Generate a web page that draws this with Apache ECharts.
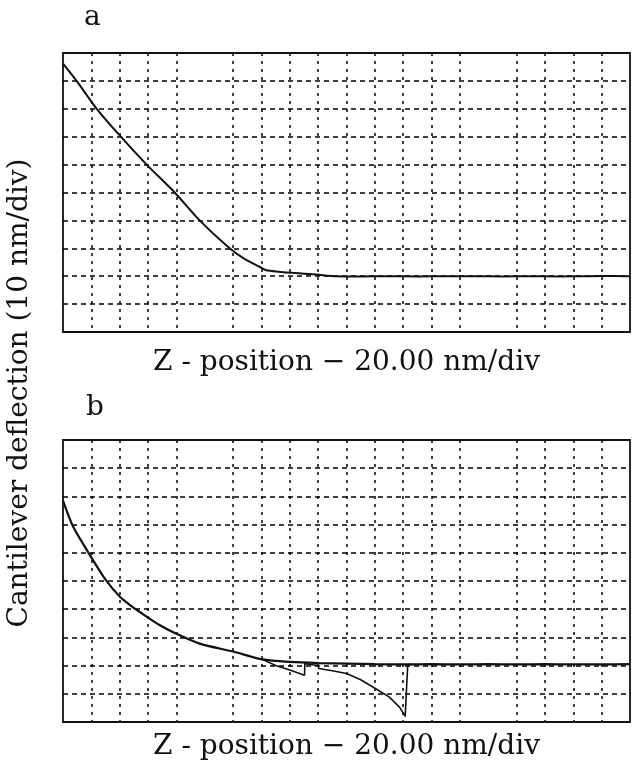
<!DOCTYPE html>
<html>
<head>
<meta charset="utf-8">
<script src="https://cdn.jsdelivr.net/npm/echarts@6/dist/echarts.min.js"></script>
<style>html,body{margin:0;padding:0;background:#fff;}#c{width:635px;height:769px;}</style>
</head>
<body>
<div id="c"></div>
<script>
// Panel a: approach curve (x in divisions, y in divisions)
var xA = [0, 0.48, 1.19, 2.04, 2.95, 3.94, 4.82, 5.88, 6.4, 6.94, 7.17, 7.6, 8.11, 8.93, 9.64, 10.5, 11.5, 12.5, 13.5, 14.5, 15.5, 16.5, 17.5, 18.5, 19.5, 20];
var yA = [9.62, 9.0, 8.0, 7.0, 6.0, 5.0, 4.0, 3.0, 2.62, 2.33, 2.21, 2.16, 2.12, 2.06, 2.0, 1.99, 2.0, 1.99, 2.0, 2.0, 1.99, 2.0, 1.99, 2.0, 2.01, 2.0];
// Panel b: approach curve
var xB = [0, 0.36, 1.01, 1.5, 2.0, 2.4, 2.71, 3.42, 4.04, 4.82, 6.03, 7.03, 8.02, 9.0, 10.02, 11, 12, 13, 14, 15, 16, 17, 18, 19, 20];
var yB = [7.85, 6.92, 5.82, 5.05, 4.45, 4.12, 3.9, 3.43, 3.11, 2.78, 2.49, 2.22, 2.13, 2.09, 2.07, 2.05, 2.04, 2.05, 2.04, 2.05, 2.04, 2.05, 2.04, 2.04, 2.05];
// Panel b: retract branch
var xR = [7.03, 7.5, 8.0, 8.52, 8.53, 8.8, 9.0, 9.02, 9.5, 10.0, 10.5, 10.93, 11.5, 11.87, 12.07, 12.16, 12.3];
var yR = [2.22, 2.0, 1.84, 1.66, 2.07, 2.03, 2.0, 1.9, 1.82, 1.72, 1.5, 1.24, 0.89, 0.53, 0.2, 2.04, 2.04];
// Texts
var panelLabels = ['a', 'b'];
var xTitle = 'Z - position \u2212 20.00 nm/div';
var yTitle = 'Cantilever deflection (10 nm/div)';

function pairs(xs, ys) { return xs.map(function (x, i) { return [x, ys[i]]; }); }

var FONT = 'DejaVu Serif';
var FS = 28;
var vColors = [];
for (var i = 0; i <= 20; i++) {
  vColors.push((i === 0 || i === 5 || i === 15 || i === 20) ? 'rgba(0,0,0,0)' : '#000');
}
var hColors = [];
for (var j = 0; j <= 10; j++) {
  hColors.push((j === 0 || j === 10) ? 'rgba(0,0,0,0)' : '#000');
}

function xAxis(gi, gap) {
  return {
    type: 'value', gridIndex: gi, min: 0, max: 20, interval: 1,
    axisLine: { show: false }, axisTick: { show: false }, axisLabel: { show: false },
    splitLine: { show: true, lineStyle: { color: vColors, width: 1.5, type: [3, 5] } },
    name: xTitle, nameLocation: 'middle', nameGap: gap,
    nameTextStyle: { fontFamily: FONT, fontSize: FS, color: '#111' }
  };
}
function yAxis(gi) {
  return {
    type: 'value', gridIndex: gi, min: 0, max: 10, interval: 1,
    axisLine: { show: false }, axisTick: { show: false }, axisLabel: { show: false },
    splitLine: { show: true, lineStyle: { color: hColors, width: 1.5, type: [5, 4] } }
  };
}

var chart = echarts.init(document.getElementById('c'), null, { renderer: 'canvas' });
chart.setOption({
  backgroundColor: '#fff',
  animation: false,
  grid: [
    { left: 63, top: 53, width: 567, height: 279, show: true, borderColor: '#111', borderWidth: 1.8, backgroundColor: 'transparent' },
    { left: 63, top: 440, width: 567, height: 282, show: true, borderColor: '#111', borderWidth: 1.8, backgroundColor: 'transparent' }
  ],
  xAxis: [xAxis(0, 17), xAxis(1, 11)],
  yAxis: [yAxis(0), yAxis(1)],
  graphic: [
    { type: 'text', left: 84, top: 4, style: { text: panelLabels[0], font: FS + 'px "' + FONT + '"', fill: '#111' } },
    { type: 'text', left: 86, top: 394, style: { text: panelLabels[1], font: FS + 'px "' + FONT + '"', fill: '#111' } },
    { type: 'text', x: 20, y: 393, rotation: Math.PI / 2,
      style: { text: yTitle, font: FS + 'px "' + FONT + '"', fill: '#111', align: 'center', verticalAlign: 'middle' } }
  ],
  series: [
    { type: 'line', xAxisIndex: 0, yAxisIndex: 0, data: pairs(xA, yA), showSymbol: false, symbol: 'none', smooth: 0.25,
      lineStyle: { color: '#111', width: 2 }, z: 5 },
    { type: 'line', xAxisIndex: 1, yAxisIndex: 1, data: pairs(xB, yB), showSymbol: false, symbol: 'none', smooth: 0.25,
      lineStyle: { color: '#111', width: 2.2 }, z: 5 },
    { type: 'line', xAxisIndex: 1, yAxisIndex: 1, data: pairs(xR, yR), showSymbol: false, symbol: 'none',
      lineStyle: { color: '#111', width: 1.6 }, z: 5 }
  ]
});
</script>
</body>
</html>
